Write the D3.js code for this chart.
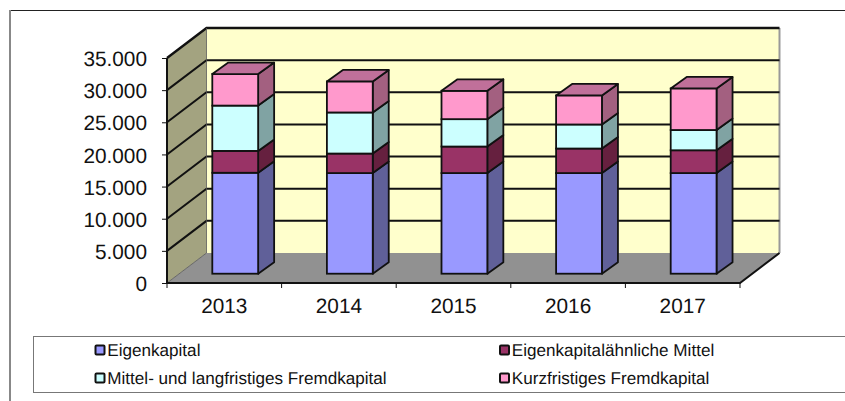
<!DOCTYPE html>
<html>
<head>
<meta charset="utf-8">
<script src="https://cdn.jsdelivr.net/npm/d3@7"></script>
<style>
  html, body { margin: 0; padding: 0; background: #fff; overflow: hidden; }
  text { font-family: "Liberation Sans", Arial, sans-serif; fill: #111; text-rendering: geometricPrecision; }
</style>
</head>
<body>
<div id="chart"></div>
<script>
var years = ["2013", "2014", "2015", "2016", "2017"];
var seriesNames = [
  "Eigenkapital",
  "Eigenkapitalähnliche Mittel",
  "Mittel- und langfristiges Fremdkapital",
  "Kurzfristiges Fremdkapital"
];
var eigenkapital = [15700, 15650, 15650, 15650, 15650];
var eigenaehnlich = [3400, 3040, 4130, 3820, 3550];
var mittelLang = [7050, 6390, 4260, 3740, 3150];
var kurzfristig = [4900, 4830, 4410, 4520, 6470];
var yTicks = [0, 5000, 10000, 15000, 20000, 25000, 30000, 35000];

var frontColors = ["#9999ff", "#993366", "#ccffff", "#ff99cc"];
var sideColors = ["#606099", "#66203f", "#80a3a3", "#a36080"];
var topColor = "#c0709a";

var width = 845, height = 401;

var svg = d3.select("#chart").append("svg")
    .attr("width", width)
    .attr("height", height)
    .style("display", "block");

// Outer frame, only top and left are in the crop
svg.append("line").attr("x1", 9).attr("x2", width).attr("y1", 10.5).attr("y2", 10.5)
    .style("stroke", "#222").style("stroke-width", 1);
svg.append("line").attr("x1", 10).attr("x2", 10).attr("y1", 10).attr("y2", height)
    .style("stroke", "#888").style("stroke-width", 2);

// Plot box
var x0 = 167, x1 = 740, yZero = 283, yTop = 58;
var depthX = 39.5, depthY = -30;

var xScale = d3.scaleBand().domain(years).range([x0, x1]);
var yScale = d3.scaleLinear().domain([0, 35000]).range([yZero, yTop]);

function pts(list) {
  return list.map(function(p) { return p.join(","); }).join(" ");
}

// Left wall
svg.append("polygon")
    .attr("points", pts([[x0, yZero], [x0 + depthX, yZero + depthY],
                         [x0 + depthX, yTop + depthY], [x0, yTop]]))
    .style("fill", "#a3a380");

// Back wall
svg.append("rect")
    .attr("x", x0 + depthX)
    .attr("y", yTop + depthY)
    .attr("width", x1 - x0)
    .attr("height", yZero - yTop)
    .style("fill", "#ffffcc");
svg.append("path")
    .attr("d", "M" + (x1 + depthX) + "," + (yTop + depthY) + "V" + (yZero + depthY))
    .style("stroke", "#999").style("stroke-width", 2).style("fill", "none");

// Floor
svg.append("polygon")
    .attr("points", pts([[x0, yZero], [x1, yZero],
                         [x1 + depthX, yZero + depthY], [x0 + depthX, yZero + depthY]]))
    .style("fill", "#919191");

// Gridlines, wall part and back part
svg.append("g").selectAll("path")
    .data(yTicks.filter(function(d) { return d > 0; }))
  .enter().append("path")
    .attr("d", function(d) {
      var y = yScale(d);
      return "M" + x0 + "," + y + "L" + (x0 + depthX) + "," + (y + depthY) + "H" + (x1 + depthX);
    })
    .style("fill", "none")
    .style("stroke", "#111")
    .style("stroke-width", function(d) { return d === 35000 ? 2.4 : 2; });

// Floor edges
svg.append("path")
    .attr("d", "M" + (x0 + depthX) + "," + (yTop + depthY) + "V" + (yZero + depthY) + "L" + x0 + "," + yZero)
    .style("fill", "none").style("stroke", "#555").style("stroke-width", 0.8);
svg.append("path")
    .attr("d", "M" + x0 + "," + yTop + "V" + yZero + "H" + x1 + "L" + (x1 + depthX) + "," + (yZero + depthY))
    .style("fill", "none").style("stroke", "#111").style("stroke-width", 2);

// Axes
var numFormat = d3.formatLocale({ decimal: ",", thousands: ".", grouping: [3], currency: ["", ""] }).format(",d");

var yAxis = svg.append("g")
    .attr("transform", "translate(" + x0 + ",1)")
    .call(d3.axisLeft(yScale).tickValues(yTicks).tickFormat(numFormat).tickSize(5).tickPadding(15));
yAxis.select(".domain").remove();
yAxis.selectAll("text").style("font-size", "20.8px");
yAxis.selectAll("line").attr("y1", -1).attr("y2", -1).style("stroke", "#111");

var xAxis = svg.append("g")
    .attr("transform", "translate(0," + yZero + ")")
    .call(d3.axisBottom(xScale).tickSize(0).tickPadding(15));
xAxis.select(".domain").remove();
xAxis.selectAll("text").style("font-size", "20.8px");

svg.append("g").selectAll("line")
    .data(years.concat(["end"]))
  .enter().append("line")
    .attr("x1", function(d) { return d === "end" ? x1 : xScale(d); })
    .attr("x2", function(d) { return d === "end" ? x1 : xScale(d); })
    .attr("y1", yZero)
    .attr("y2", yZero + 5)
    .style("stroke", "#111");

// Stacked 3D bars
var rows = years.map(function(y, i) {
  return { year: y, a: eigenkapital[i], b: eigenaehnlich[i], c: mittelLang[i], d: kurzfristig[i] };
});
var stacked = d3.stack().keys(["a", "b", "c", "d"])(rows);

var barW = xScale.bandwidth() * 0.4;
var barShift = 45.3;        // bar left edge inside band
var baseDrop = yZero - 273.7; // bars stand in the middle of the floor
var sideX = 16, sideY = -11.5;

function barY(v) { return yScale(v) - baseDrop; }

svg.append("g").selectAll("g")
    .data(years)
  .enter().append("g")
    .each(function(year, i) {
      var g = d3.select(this);
      var left = xScale(year) + barShift, right = left + barW;

      stacked.forEach(function(layer, k) {
        var top = barY(layer[i][1]), bottom = barY(layer[i][0]);

        g.append("polygon")
            .attr("points", pts([[right, top], [right + sideX, top + sideY],
                                 [right + sideX, bottom + sideY], [right, bottom]]))
            .style("fill", sideColors[k])
            .style("stroke", "#111").style("stroke-width", 1.8).style("stroke-linejoin", "round");
        g.append("rect")
            .attr("x", left)
            .attr("y", top)
            .attr("width", barW)
            .attr("height", bottom - top)
            .style("fill", frontColors[k])
            .style("stroke", "#111").style("stroke-width", 1.8);

        if (k === stacked.length - 1) {
          g.append("polygon")
              .attr("points", pts([[left, top], [right, top], [right + sideX, top + sideY],
                                   [left + sideX, top + sideY]]))
              .style("fill", topColor)
              .style("stroke", "#111").style("stroke-width", 1.8).style("stroke-linejoin", "round");
        }
      });
    });

// Legend
svg.append("rect")
    .attr("x", 33.5)
    .attr("y", 336.5)
    .attr("width", width)
    .attr("height", 56)
    .style("fill", "#fff")
    .style("stroke", "#777");

var legendX = [95, 499.5], legendY = [350, 378];
var legend = svg.append("g").selectAll("g")
    .data(seriesNames)
  .enter().append("g")
    .attr("transform", function(d, i) {
      return "translate(" + legendX[i % 2] + "," + legendY[Math.floor(i / 2)] + ")";
    });
legend.append("rect")
    .attr("x", 0.5).attr("y", -4.5)
    .attr("width", 9).attr("height", 9)
    .attr("rx", 1)
    .style("fill", function(d, i) { return frontColors[i]; })
    .style("stroke", "#111").style("stroke-width", 2);
legend.append("text")
    .attr("x", 12.3)
    .attr("dy", "0.36em")
    .style("font-size", "17.1px")
    .text(function(d) { return d; });
</script>
</body>
</html>
